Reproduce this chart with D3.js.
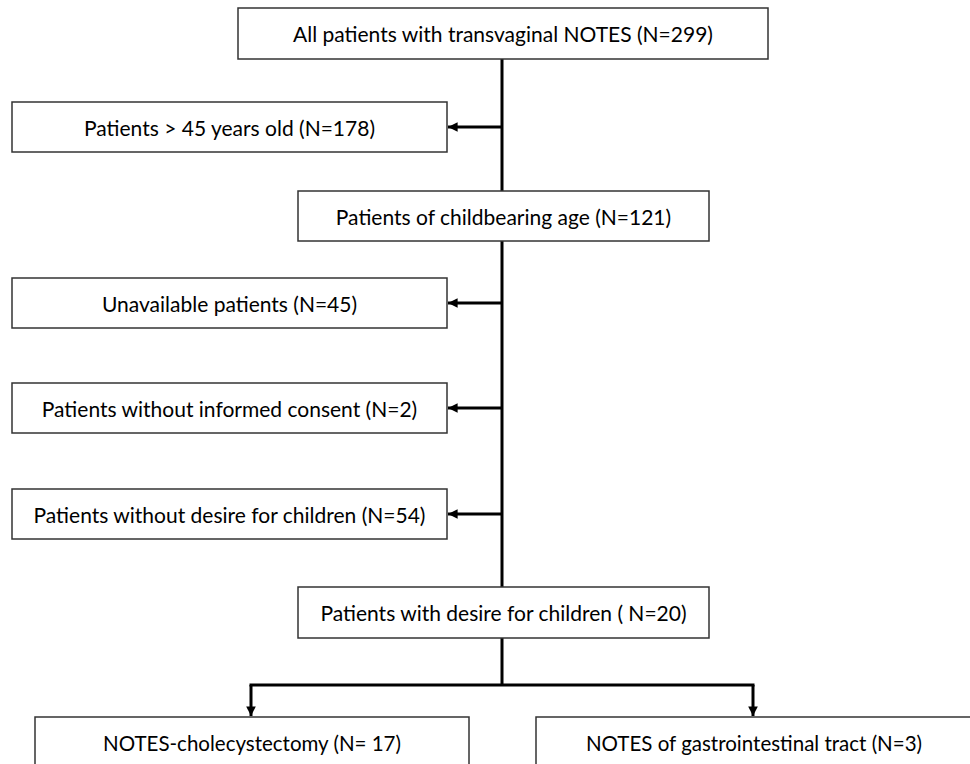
<!DOCTYPE html>
<html>
<head>
<meta charset="utf-8">
<script src="https://cdn.jsdelivr.net/npm/d3@7"></script>
<style>
  body { margin: 0; background: #fff; }
  svg { display: block; }
  text { font-family: Lato, "Open Sans", sans-serif; font-size: 21px; fill: #000; }
  text.outcome { font-size: 20.5px; }
</style>
</head>
<body>
<div id="chart"></div>
<script>
// flow data
var mainLabels = [
    "All patients with transvaginal NOTES (N=299)",
    "Patients of childbearing age (N=121)",
    "Patients with desire for children ( N=20)"
];
var excludedLabels = [
    "Patients > 45 years old (N=178)",
    "Unavailable patients (N=45)",
    "Patients without informed consent (N=2)",
    "Patients without desire for children (N=54)"
];
var outcomeLabels = [
    "NOTES-cholecystectomy (N= 17)",
    "NOTES of gastrointestinal tract (N=3)"
];

var width = 970;
var height = 764;

// layout (box geometry)
var mainBoxes = [
    {x: 238, y: 8, w: 530, h: 51},
    {x: 298, y: 191, w: 411, h: 50},
    {x: 298, y: 587, w: 411, h: 51}
];
var excludedBoxes = [
    {y: 102}, {y: 278}, {y: 383}, {y: 489}
];
var sideX = 12, sideW = 435, sideH = 50;
var outcomeBoxes = [
    {x: 35, w: 434}, {x: 536, w: 436}
];
var outcomeY = 717, outcomeH = 60;
var spineX = 502;
var splitY = 685;

var svg = d3.select('#chart')
    .append('svg')
    .attr('width', width)
    .attr('height', height);

svg.append("defs").append("marker")
    .attr("id", "arrow")
    .attr("viewBox", "0 0 10 10")
    .attr("refX", 10)
    .attr("refY", 5)
    .attr("markerWidth", 3.2)
    .attr("markerHeight", 3.2)
    .attr("markerUnits", "strokeWidth")
    .attr("orient", "auto")
    .append("path")
    .attr("d", "M0,0L10,5L0,10Z")
    .attr("fill", "#000");

var lines = svg.append("g")
    .attr("stroke", "#000")
    .attr("stroke-width", 3)
    .attr("fill", "none");

// spine
lines.append("line")
    .attr("x1", spineX).attr("x2", spineX)
    .attr("y1", mainBoxes[0].y + mainBoxes[0].h)
    .attr("y2", splitY);

// side arrows
lines.selectAll(".side")
    .data(excludedLabels)
    .enter()
    .append("line")
    .attr("class", "side")
    .attr("x1", spineX)
    .attr("x2", sideX + sideW + 1)
    .attr("y1", function(d, i) {return excludedBoxes[i].y + sideH / 2})
    .attr("y2", function(d, i) {return excludedBoxes[i].y + sideH / 2})
    .attr("marker-end", "url(#arrow)");

// split line and down arrows
var arrowX = [251, 753];
lines.append("line")
    .attr("x1", arrowX[0] - 1.5).attr("x2", arrowX[1] + 1.5)
    .attr("y1", splitY).attr("y2", splitY);
lines.selectAll(".down")
    .data(outcomeLabels)
    .enter()
    .append("line")
    .attr("class", "down")
    .attr("x1", function(d, i) {return arrowX[i]})
    .attr("x2", function(d, i) {return arrowX[i]})
    .attr("y1", splitY)
    .attr("y2", outcomeY - 1)
    .attr("marker-end", "url(#arrow)");

function drawBox(g, label, b) {
    g.append("rect")
        .attr("x", b.x).attr("y", b.y)
        .attr("width", b.w).attr("height", b.h)
        .attr("fill", "#fff")
        .attr("stroke", "#333")
        .attr("stroke-width", 1.5);
    g.append("text")
        .attr("x", b.x + b.w / 2)
        .attr("y", b.y + b.h / 2)
        .attr("text-anchor", "middle")
        .attr("dominant-baseline", "central")
        .text(label);
}

var boxes = svg.append("g");
mainLabels.forEach(function(label, i) {
    drawBox(boxes.append("g"), label, mainBoxes[i]);
});
excludedLabels.forEach(function(label, i) {
    drawBox(boxes.append("g"), label, {x: sideX, y: excludedBoxes[i].y, w: sideW, h: sideH});
});
outcomeLabels.forEach(function(label, i) {
    var g = boxes.append("g");
    drawBox(g, label, {x: outcomeBoxes[i].x, y: outcomeY, w: outcomeBoxes[i].w, h: outcomeH});
    g.select("text").attr("class", "outcome").attr("y", 743);
});
</script>
</body>
</html>
